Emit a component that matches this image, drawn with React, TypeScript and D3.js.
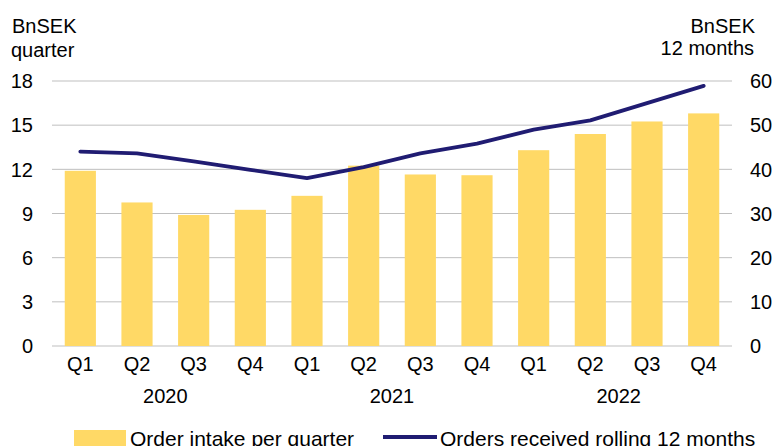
import { useEffect, useRef } from 'react'
import * as d3 from 'd3'

const QUARTERS = ['Q1', 'Q2', 'Q3', 'Q4', 'Q1', 'Q2', 'Q3', 'Q4', 'Q1', 'Q2', 'Q3', 'Q4']
const YEARS = ['2020', '2021', '2022']
const ORDER_INTAKE = [11.9, 9.75, 8.9, 9.25, 10.2, 12.25, 11.65, 11.6, 13.3, 14.4, 15.25, 15.8]
const ROLLING_12M = [44.0, 43.6, 41.8, 39.9, 38.0, 40.5, 43.6, 45.8, 49.0, 51.1, 55.0, 58.9]
const LEFT_TICKS = [0, 3, 6, 9, 12, 15, 18]
const RIGHT_TICKS = [0, 10, 20, 30, 40, 50, 60]

const W = 774
const H = 446
const FONT = 'Liberation Sans, Arial, sans-serif'
const BAR = '#FFD966'
const LINE = '#201C72'

export default function App() {
  const svgRef = useRef<SVGSVGElement>(null)

  useEffect(() => {
    if (!svgRef.current) return
    const svg = d3.select(svgRef.current)
    svg.selectAll('*').remove()

    const m = { left: 52, right: 42, top: 81, bottom: 100 }
    const x0 = m.left, x1 = W - m.right
    const yTop = m.top, yBot = H - m.bottom

    const idx = QUARTERS.map((_, i) => i)
    const x = d3.scaleBand<number>().domain(idx).range([x0, x1]).paddingInner(0.45).paddingOuter(0.225)
    const yL = d3.scaleLinear().domain([0, 18]).range([yBot, yTop])
    const yR = d3.scaleLinear().domain([0, 60]).range([yBot, yTop])

    // gridlines
    svg.append('g').selectAll('line').data(LEFT_TICKS).enter().append('line')
      .attr('x1', x0).attr('x2', x1)
      .attr('y1', d => yL(d)).attr('y2', d => yL(d))
      .attr('stroke', '#BFBFBF').attr('stroke-width', 1)

    // bars
    svg.append('g').selectAll('rect').data(ORDER_INTAKE).enter().append('rect')
      .attr('x', (_, i) => x(i)!)
      .attr('width', x.bandwidth())
      .attr('y', d => yL(d))
      .attr('height', d => yBot - yL(d))
      .attr('fill', BAR)

    // line
    const line = d3.line<number>()
      .x((_, i) => x(i)! + x.bandwidth() / 2)
      .y(d => yR(d))
    svg.append('path').datum(ROLLING_12M)
      .attr('d', line)
      .attr('fill', 'none')
      .attr('stroke', LINE)
      .attr('stroke-width', 3.8)
      .attr('stroke-linecap', 'round')
      .attr('stroke-linejoin', 'round')

    const txt = (size: number) => (g: d3.Selection<SVGGElement, unknown, null, undefined>) =>
      g.attr('font-family', FONT).attr('font-size', size).attr('fill', '#000')

    // left ticks
    svg.append('g').call(txt(20)).selectAll('text').data(LEFT_TICKS).enter().append('text')
      .attr('x', 33).attr('y', d => yL(d)).attr('dy', '0.36em')
      .attr('text-anchor', 'end').text(d => d)

    // right ticks
    svg.append('g').call(txt(20)).selectAll('text').data(RIGHT_TICKS).enter().append('text')
      .attr('x', 750).attr('y', d => yR(d)).attr('dy', '0.36em')
      .attr('text-anchor', 'start').text(d => d)

    // quarter labels
    svg.append('g').call(txt(20)).selectAll('text').data(QUARTERS).enter().append('text')
      .attr('x', (_, i) => x(i)! + x.bandwidth() / 2).attr('y', 371)
      .attr('text-anchor', 'middle').text(d => d)

    // year labels, centred under each group of four quarters
    svg.append('g').call(txt(20)).selectAll('text').data(YEARS).enter().append('text')
      .attr('x', (_, i) => (x(i * 4 + 1)! + x(i * 4 + 2)! + x.bandwidth()) / 2)
      .attr('y', 403)
      .attr('text-anchor', 'middle').text(d => d)

    // axis titles
    const titles = svg.append('g').call(txt(20))
    titles.append('text').attr('x', 12).attr('y', 33).text('BnSEK')
    titles.append('text').attr('x', 11).attr('y', 57).text('quarter')
    titles.append('text').attr('x', 755).attr('y', 32.5).attr('text-anchor', 'end').text('BnSEK')
    titles.append('text').attr('x', 754).attr('y', 55).attr('text-anchor', 'end').text('12 months')

    // legend
    const lg = svg.append('g').call(txt(21))
    lg.append('rect').attr('x', 74).attr('y', 430).attr('width', 52).attr('height', 16).attr('fill', BAR)
    lg.append('text').attr('x', 130).attr('y', 446).text('Order intake per quarter')
    lg.append('line').attr('x1', 383).attr('x2', 437).attr('y1', 437).attr('y2', 437)
      .attr('stroke', LINE).attr('stroke-width', 3.8)
    lg.append('text').attr('x', 440).attr('y', 446).text('Orders received rolling 12 months')
  }, [])

  return (
    <svg
      ref={svgRef}
      width={W}
      height={H}
      style={{ position: 'fixed', left: 0, top: 0, background: '#fff', display: 'block' }}
    />
  )
}
